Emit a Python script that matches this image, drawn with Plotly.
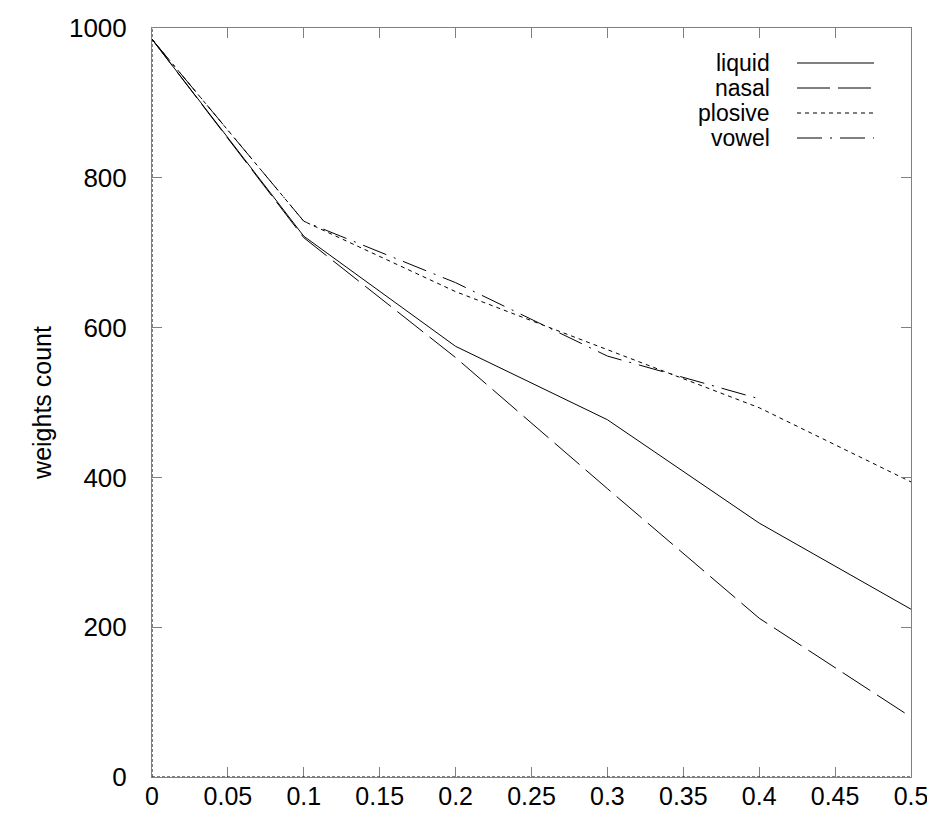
import plotly.graph_objects as go

x_vals = [0.0, 0.1, 0.2, 0.3, 0.4, 0.5]
liquid = [985, 722, 575, 477, 339, 224]
nasal = [985, 720, 560, 385, 212, 80]
plosive = [985, 742, 648, 571, 493, 394]
vowel_x = [0.0, 0.1, 0.2, 0.3, 0.4]
vowel = [985, 742, 660, 562, 505]

x_ticks = [0, 0.05, 0.1, 0.15, 0.2, 0.25, 0.3, 0.35, 0.4, 0.45, 0.5]
x_tick_text = ["0", "0.05", "0.1", "0.15", "0.2", "0.25", "0.3", "0.35", "0.4", "0.45", "0.5"]
y_ticks = [0, 200, 400, 600, 800, 1000]
y_tick_text = ["0", "200", "400", "600", "800", "1000"]

series = [
    ("liquid", x_vals, liquid, "solid"),
    ("nasal", x_vals, nasal, "33px,8px"),
    ("plosive", x_vals, plosive, "4px,4px"),
    ("vowel", vowel_x, vowel, "25px,8px,2px,8px"),
]

FONT = "Liberation Sans, Arial, sans-serif"
fig = go.Figure()
for name, xs, ys, dash in series:
    fig.add_trace(go.Scatter(x=xs, y=ys, mode="lines", name=name,
                             line=dict(color="black", width=1, dash=dash),
                             showlegend=False))

# custom gnuplot-style legend (text right-aligned, sample to the right)
PW, PH = 759.0, 749.0
shapes = []
annotations = []
row_y0 = 1 - (63 - 28) / PH
row_step = 25 / PH
for i, (name, xs, ys, dash) in enumerate(series):
    yy = row_y0 - i * row_step
    annotations.append(dict(x=(771 - 152) / PW, y=yy, xref="paper", yref="paper",
                            text=name, showarrow=False, xanchor="right", yanchor="middle",
                            borderpad=0,
                            font=dict(family=FONT, size=23, color="black")))
    shapes.append(dict(type="line", xref="paper", yref="paper",
                       x0=(797 - 152) / PW, x1=(874 - 152) / PW, y0=yy, y1=yy,
                       line=dict(color="black", width=1, dash=dash)))

# dotted zero axes over the left and bottom borders
shapes.append(dict(type="line", xref="x", yref="paper", x0=0, x1=0, y0=0, y1=1,
                   line=dict(color="black", width=1, dash="3px,2px")))
shapes.append(dict(type="line", xref="paper", yref="y", x0=0, x1=1, y0=0, y1=0,
                   line=dict(color="black", width=1, dash="3px,2px")))

fig.update_layout(
    width=927, height=809,
    margin=dict(l=144, r=24, t=20, b=40, autoexpand=False),
    paper_bgcolor="white", plot_bgcolor="white",
    font=dict(family=FONT, size=25, color="black"),
    shapes=shapes, annotations=annotations,
    showlegend=False,
)
fig.update_xaxes(range=[0, 0.5], tickvals=x_ticks, ticktext=x_tick_text,
                 ticks="inside", ticklen=10, tickcolor="#808080", tickwidth=1,
                 showline=True, linecolor="#808080", linewidth=1, mirror="allticks",
                 showgrid=False, zeroline=False, automargin=False,
                 ticklabeloverflow="allow",
                 tickfont=dict(family=FONT, size=25, color="black"), ticklabelstandoff=-3)
fig.update_yaxes(range=[0, 1000], tickvals=y_ticks, ticktext=y_tick_text,
                 ticks="inside", ticklen=10, tickcolor="#808080", tickwidth=1,
                 showline=True, linecolor="#808080", linewidth=1, mirror="allticks",
                 showgrid=False, zeroline=False, automargin=False,
                 ticklabeloverflow="allow",
                 tickfont=dict(family=FONT, size=26, color="black"), ticklabelstandoff=19,
                 title=dict(text="weights count", font=dict(family=FONT, size=25, color="black"),
                            standoff=10))

fig.write_html("out.html")
